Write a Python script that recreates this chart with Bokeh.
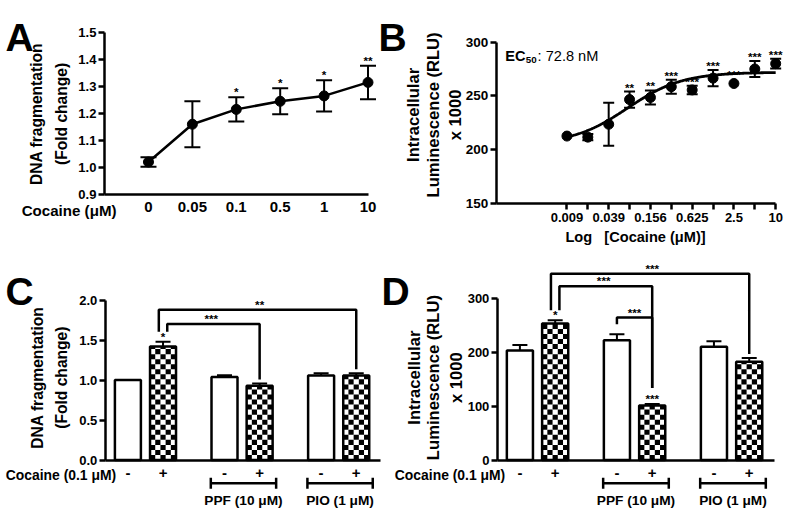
import numpy as np
from bokeh.plotting import figure
from bokeh.models import (ColumnDataSource, Whisker, TeeHead, LabelSet, Label,
                          FixedTicker, Range1d, PrintfTickFormatter)
from bokeh.layouts import column, row
from bokeh.core.properties import value
from bokeh.embed import file_html
from bokeh.resources import INLINE

FONT = "Liberation Sans"

# ---------------- data ----------------
# Panel A: DNA fragmentation vs cocaine dose
a_conc = ["0", "0.05", "0.1", "0.5", "1", "10"]
a_mean = [1.02, 1.16, 1.215, 1.245, 1.265, 1.315]
a_sem = [0.018, 0.085, 0.045, 0.048, 0.058, 0.062]
a_sig = ["", "", "*", "*", "*", "**"]
a_yticks = [0.9, 1.0, 1.1, 1.2, 1.3, 1.4, 1.5]

# Panel B: intracellular luminescence dose response
b_dose = [0.009765625, 0.01953125, 0.0390625, 0.078125, 0.15625, 0.3125,
          0.625, 1.25, 2.5, 5.0, 10.0]
b_mean = [212.5, 211.5, 223.5, 246.5, 248.5, 258.5, 255.5, 266.5, 261.5, 275.0, 280.0]
b_sem = [0.0, 3.0, 20.0, 7.5, 6.5, 6.5, 4.0, 7.5, 0.0, 7.5, 4.5]
b_sig = ["", "", "", "**", "**", "***", "***", "***", "***", "***", "***"]
b_tick_labels = ["0.009", "", "0.039", "", "0.156", "", "0.625", "", "2.5", "", "10"]
b_yticks = [150, 200, 250, 300]
b_fit_bottom, b_fit_top, b_fit_ec50, b_fit_hill = 205.0, 272.0, 0.0728, 1.1

# Panels C and D: bar charts
cocaine_sign = ["-", "+", "-", "+", "-", "+"]
group_names = ["PPF (10 \u03bcM)", "PIO (1 \u03bcM)"]
c_mean = [1.0, 1.42, 1.038, 0.929, 1.058, 1.058]
c_sem = [0.0, 0.06, 0.022, 0.028, 0.028, 0.028]
c_sig = ["", "*", "", "", "", ""]
c_yticks = [0.0, 0.5, 1.0, 1.5, 2.0]
c_comparisons = [(1, 5, 1.88, "**"), (1, 3, 1.70, "***")]

d_mean = [203.0, 253.0, 222.0, 101.0, 210.0, 182.0]
d_sem = [10.0, 6.0, 11.0, 3.0, 10.0, 7.0]
d_sig = ["", "*", "", "***", "", ""]
d_yticks = [0, 100, 200, 300]
d_comparisons = [(1, 5, 345.0, "***"), (1, 3, 322.0, "***"), (2, 3, 264.0, "***")]

# ---------------- geometry helpers ----------------
KX, KY = 784 / 800, 508 / 524     # the page area is 784 x 508
FS = 0.975                          # font scale


class Geo:
    """Maps reference-picture pixels to one figure's canvas / data space."""

    def __init__(self, ox, oy, W, H, xref, yref, xlog=False):
        self.ox, self.oy, self.W, self.H, self.xlog = ox, oy, W, H, xlog
        r1, v1, r2, v2 = xref
        if xlog:
            v1, v2 = np.log10(v1), np.log10(v2)
        self.px1, self.px2, self.vx1, self.vx2 = r1 * KX - ox, r2 * KX - ox, v1, v2
        r1, v1, r2, v2 = yref
        self.py1, self.py2, self.vy1, self.vy2 = r1 * KY - oy, r2 * KY - oy, v1, v2

    def sx(self, rx):
        return rx * KX - self.ox

    def sy(self, ry):
        return self.H - (ry * KY - self.oy)

    def xl(self, p):
        v = self.vx1 + (p - self.px1) * (self.vx2 - self.vx1) / (self.px2 - self.px1)
        return 10 ** v if self.xlog else v

    def yl(self, p):
        return self.vy1 + (p - self.py1) * (self.vy2 - self.vy1) / (self.py2 - self.py1)

    def xv(self, rx):
        return self.xl(rx * KX - self.ox)

    def yv(self, ry):
        return self.yl(ry * KY - self.oy)

    def ranges(self):
        return (Range1d(self.xl(0), self.xl(self.W)), Range1d(self.yl(self.H), self.yl(0)))

    def dy_per_px(self):
        return (self.yl(0) - self.yl(self.H)) / self.H


def make_fig(g, x_axis_type="linear"):
    xr, yr = g.ranges()
    p = figure(width=g.W, height=g.H, x_range=xr, y_range=yr, x_axis_type=x_axis_type,
               output_backend="svg", toolbar_location=None, min_border=0)
    p.grid.visible = False
    p.outline_line_color = None
    p.background_fill_color = "white"
    p.border_fill_color = "white"
    for ax in (p.xaxis[0], p.yaxis[0]):
        ax.axis_line_width = 2.5
        ax.axis_line_color = "black"
        ax.major_tick_line_width = 2.5
        ax.major_tick_line_color = "black"
        ax.major_tick_out = 6
        ax.major_tick_in = 0
        ax.minor_tick_line_color = None
        ax.major_label_text_font = FONT
        ax.major_label_text_font_style = "bold"
        ax.major_label_text_color = "black"
    return p


def put(p, g, rx, ry, text, size, style="bold", align="center", baseline="middle",
        angle=0.0, min_x=None):
    x = g.sx(rx)
    if min_x is not None:
        x = max(x, min_x)
    p.add_layout(Label(x=x, y=g.sy(ry), x_units="screen", y_units="screen",
                       text=text, text_font=FONT, text_font_size=f"{size * FS:.1f}px",
                       text_font_style=style, text_align=align,
                       text_baseline=baseline, angle=angle, text_color="black"))


def stars(p, src, ycol, size=12, yoff=0):
    p.add_layout(LabelSet(source=src, x="x", y=ycol, text="sig", text_font=value(FONT),
                          text_font_size=f"{size * FS:.1f}px", text_font_style="bold",
                          text_align="center", text_baseline="alphabetic",
                          y_offset=yoff, text_color="black"))


# ---------------- Panel A ----------------
gA = Geo(0, 0, 378, 258, (151, 0, 375, 5), (200, 0.9, 33, 1.5))
pA = make_fig(gA)
xa = list(range(len(a_conc)))
srcA = ColumnDataSource(dict(x=xa, y=a_mean,
                             lo=[m - s for m, s in zip(a_mean, a_sem)],
                             hi=[m + s for m, s in zip(a_mean, a_sem)], sig=a_sig))
pA.line("x", "y", source=srcA, line_width=2.5, color="black")
pA.add_layout(Whisker(source=srcA, base="x", lower="lo", upper="hi", line_width=2,
                      level="annotation",
                      upper_head=TeeHead(size=16, line_width=2),
                      lower_head=TeeHead(size=16, line_width=2)))
pA.scatter("x", "y", source=srcA, size=10, color="black")
stars(pA, srcA, "hi", 12, 1)
pA.xaxis.fixed_location = 0.9
pA.xaxis.bounds = (gA.xv(106), gA.xv(376))
pA.xaxis.ticker = FixedTicker(ticks=xa)
pA.xaxis.major_label_overrides = {i: t for i, t in zip(xa, a_conc)}
pA.xaxis.major_tick_out = 0
pA.xaxis.major_tick_line_color = None
pA.xaxis.major_label_standoff = 8
pA.xaxis.major_label_text_font_size = "15px"
pA.yaxis.fixed_location = gA.xv(106)
pA.yaxis.bounds = (0.9, 1.5)
pA.yaxis.ticker = FixedTicker(ticks=a_yticks)
pA.yaxis.formatter = PrintfTickFormatter(format="%.1f")
pA.yaxis.major_label_text_font_size = "13px"
pA.yaxis.major_label_standoff = 2
put(pA, gA, 5, 38, "A", 40, align="left", baseline="alphabetic", min_x=0)
put(pA, gA, 37, 117, "DNA fragmentation", 16, angle=np.pi / 2)
put(pA, gA, 62, 117, "(Fold change)", 16, angle=np.pi / 2)
put(pA, gA, 70, 217, "Cocaine (\u03bcM)", 15.5)

# ---------------- Panel B ----------------
gB = Geo(378, 0, 406, 258, (578, b_dose[0], 791, b_dose[-1]), (209, 150, 43, 300), xlog=True)
pB = make_fig(gB, x_axis_type="log")
srcB = ColumnDataSource(dict(x=b_dose, y=b_mean))
errB = ColumnDataSource(dict(
    x=[d for d, s in zip(b_dose, b_sem) if s > 0],
    lo=[m - s for m, s in zip(b_mean, b_sem) if s > 0],
    hi=[m + s for m, s in zip(b_mean, b_sem) if s > 0]))
xfit = np.geomspace(b_dose[0], b_dose[-1], 300)
yfit = b_fit_bottom + (b_fit_top - b_fit_bottom) / (1.0 + (b_fit_ec50 / xfit) ** b_fit_hill)
pB.line(xfit, yfit, line_width=2.8, color="black")
pB.add_layout(Whisker(source=errB, base="x", lower="lo", upper="hi", line_width=2,
                      level="annotation",
                      upper_head=TeeHead(size=11, line_width=2),
                      lower_head=TeeHead(size=11, line_width=2)))
pB.scatter("x", "y", source=srcB, size=10, color="black")
srcBs = ColumnDataSource(dict(x=b_dose,
                              y=[m + (s if s > 0 else 4.0) for m, s in zip(b_mean, b_sem)],
                              sig=b_sig))
stars(pB, srcBs, "y", 12, 0)
labelled = [d for d, t in zip(b_dose, b_tick_labels) if t]
unlabelled = [d for d, t in zip(b_dose, b_tick_labels) if not t]
pB.xaxis.fixed_location = 150
pB.xaxis.bounds = (gB.xv(506), b_dose[-1])
pB.xaxis.ticker = FixedTicker(ticks=labelled, minor_ticks=unlabelled)
pB.xaxis.major_label_overrides = {d: t for d, t in zip(b_dose, b_tick_labels) if t}
pB.xaxis.minor_tick_line_color = "black"
pB.xaxis.minor_tick_line_width = 2.5
pB.xaxis.minor_tick_out = 6
pB.xaxis.minor_tick_in = 0
pB.xaxis.major_label_standoff = 4
pB.xaxis.major_label_text_font_size = "13px"
pB.yaxis.fixed_location = gB.xv(506)
pB.yaxis.bounds = (150, 300)
pB.yaxis.ticker = FixedTicker(ticks=b_yticks)
pB.yaxis.major_label_text_font_size = "13.5px"
pB.yaxis.major_label_standoff = 2
put(pB, gB, 383, 38, "B", 40, align="left", baseline="alphabetic", min_x=0)
put(pB, gB, 421, 118, "Intracellular", 17, angle=np.pi / 2)
put(pB, gB, 442, 118, "Luminescence (RLU)", 17, angle=np.pi / 2)
put(pB, gB, 464, 118, "x 1000", 17, angle=np.pi / 2)
put(pB, gB, 648, 244, "Log\u00a0\u00a0\u00a0[Cocaine (\u03bcM)]", 15)
put(pB, gB, 515, 57, "EC", 15, align="left", baseline="alphabetic")
put(pB, gB, 536, 61, "50", 10, align="left", baseline="alphabetic")
put(pB, gB, 548, 57, ": 72.8 nM", 15, style="normal", align="left", baseline="alphabetic")


# ---------------- Panels C and D ----------------
def bar_panel(g, axis_left_ref, axis_right_ref, means, sems, sig, comps, yticks, yfmt,
              letter, letter_x, ylabels, coc_right, bw=0.74, star_px=12):
    p = make_fig(g)
    pos = [grp * 2.75 + s for grp in range(3) for s in range(2)]
    dpp = g.dy_per_px()
    plain = [i for i, c in enumerate(cocaine_sign) if c == "-"]
    coc = [i for i, c in enumerate(cocaine_sign) if c == "+"]
    p.vbar(x=[pos[i] for i in plain], top=[means[i] for i in plain], bottom=0, width=bw,
           fill_color="white", line_color="black", line_width=2.5)
    # checkerboard fill of the cocaine bars
    p.vbar(x=[pos[i] for i in coc], top=[means[i] for i in coc], bottom=0, width=bw,
           fill_color="white", line_color=None)
    ncol = 5
    cw = bw / ncol
    ch = 5.2 * KY * dpp
    cx, cy, cwid, chei = [], [], [], []
    for i in coc:
        r, y0 = 0, 0.0
        while y0 < means[i] - 1e-9:
            h = min(ch, means[i] - y0)
            for c in range(ncol):
                if (r + c) % 2 == 0:
                    cx.append(pos[i] - bw / 2 + (c + 0.5) * cw)
                    cy.append(y0 + h / 2)
                    cwid.append(cw)
                    chei.append(h)
            y0 += ch
            r += 1
    p.rect(x=cx, y=cy, width=cwid, height=chei, fill_color="black", line_color=None)
    p.vbar(x=[pos[i] for i in coc], top=[means[i] for i in coc], bottom=0, width=bw,
           fill_color=None, line_color="black", line_width=2.5)
    keep = [i for i in range(6) if sems[i] > 0]
    err = ColumnDataSource(dict(x=[pos[i] for i in keep], lo=[means[i] for i in keep],
                                hi=[means[i] + sems[i] for i in keep]))
    p.add_layout(Whisker(source=err, base="x", lower="lo", upper="hi", line_width=2,
                         level="annotation",
                         upper_head=TeeHead(size=15, line_width=2), lower_head=None))
    tops = [m + s for m, s in zip(means, sems)]
    stars(p, ColumnDataSource(dict(x=pos, y=tops, sig=sig)), "y", 12, 1)
    # comparison brackets
    xs, ys, mx, my, mt = [], [], [], [], []
    for (i, j, lvl, txt) in comps:
        same = [c[2] for c in comps if c[0] == i]
        shift = 0.0
        if len(same) > 1:
            shift = -0.12 if lvl == max(same) else 0.12
        xl, xr_ = pos[i] + shift, pos[j]
        bl = tops[i] + 10 * dpp
        br = tops[j] + ((star_px * dpp) if sig[j] else 0) + 4 * dpp
        xs.append([xl, xl, xr_, xr_])
        ys.append([bl, lvl, lvl, br])
        mx.append((pos[i] + pos[j]) / 2)
        my.append(lvl)
        mt.append(txt)
    p.multi_line(xs, ys, line_width=2.5, color="black")
    p.add_layout(LabelSet(source=ColumnDataSource(dict(x=mx, y=my, t=mt)), x="x", y="y",
                          text="t", text_font=value(FONT), text_font_size=f"{12 * FS:.1f}px",
                          text_font_style="bold", text_align="center",
                          text_baseline="alphabetic", y_offset=1, text_color="black"))
    # axes
    p.xaxis.fixed_location = 0
    p.xaxis.bounds = (g.xv(axis_left_ref), g.xv(axis_right_ref))
    p.xaxis.ticker = FixedTicker(ticks=pos)
    p.xaxis.major_label_overrides = {x: s for x, s in zip(pos, cocaine_sign)}
    p.xaxis.major_tick_out = 0
    p.xaxis.major_tick_line_color = None
    p.xaxis.major_label_standoff = 8
    p.xaxis.major_label_text_font_size = "15px"
    p.yaxis.fixed_location = g.xv(axis_left_ref)
    p.yaxis.ticker = FixedTicker(ticks=yticks)
    p.yaxis.bounds = (yticks[0], yticks[-1])
    if yfmt:
        p.yaxis.formatter = PrintfTickFormatter(format=yfmt)
    p.yaxis.major_label_text_font_size = "13px"
    p.yaxis.major_label_standoff = 2
    # treatment ranges under the axis
    gl = [pos[2 * k] - bw / 2 - 0.02 for k in (1, 2)]
    gh = [pos[2 * k + 1] + bw / 2 + 0.1 for k in (1, 2)]
    gsrc = ColumnDataSource(dict(base=[g.sy(498)] * 2, lo=gl, hi=gh,
                                 mid=[(a + b) / 2 for a, b in zip(gl, gh)],
                                 ly=[g.sy(523.5)] * 2, name=group_names))
    p.add_layout(Whisker(source=gsrc, base="base", lower="lo", upper="hi", dimension="width",
                         base_units="screen", line_width=2.5, level="annotation",
                         upper_head=TeeHead(size=11, line_width=2.5),
                         lower_head=TeeHead(size=11, line_width=2.5)))
    p.add_layout(LabelSet(source=gsrc, x="mid", y="ly", y_units="screen", text="name",
                          text_font=value(FONT), text_font_size=f"{14 * FS:.1f}px",
                          text_font_style="bold", text_align="center",
                          text_baseline="bottom", text_color="black"))
    put(p, g, letter_x, 300, letter, 40, align="left", baseline="alphabetic", min_x=0)
    for (lx, txt, sz) in ylabels:
        put(p, g, lx, 389, txt, sz, angle=np.pi / 2)
    put(p, g, coc_right, 489, "Cocaine (0.1 \u03bcM)", 14.3, align="right")
    return p


gC = Geo(0, 258, 381, 250, (130, 0.0, 363, 6.5), (474, 0.0, 309, 2.0))
pC = bar_panel(gC, 107, 388, c_mean, c_sem, c_sig, c_comparisons, c_yticks, "%.1f", "C", 5,
               [(38, "DNA fragmentation", 16), (62, "(Fold change)", 16)], 118)
gD = Geo(381, 258, 403, 250, (530, 0.0, 764, 6.5), (474, 0.0, 307, 300.0))
pD = bar_panel(gD, 507, 790, d_mean, d_sem, d_sig, d_comparisons, d_yticks, None, "D", 387,
               [(422, "Intracellular", 17), (442, "Luminescence (RLU)", 17),
                (465, "x 1000", 17)], 515)

layout = column(row(pA, pB), row(pC, pD))
open("out.html", "w").write(file_html(layout, INLINE))
